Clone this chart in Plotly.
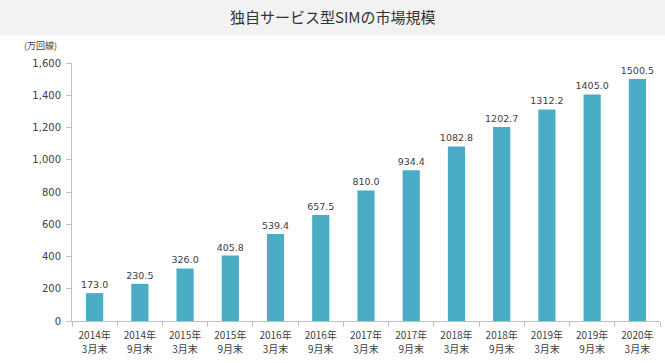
import plotly.graph_objects as go

years = ["2014年", "2014年", "2015年", "2015年", "2016年", "2016年", "2017年",
         "2017年", "2018年", "2018年", "2019年", "2019年", "2020年"]
months = ["3月末", "9月末", "3月末", "9月末", "3月末", "9月末", "3月末",
          "9月末", "3月末", "9月末", "3月末", "9月末", "3月末"]
categories = [y + m for y, m in zip(years, months)]
values = [173.0, 230.5, 326.0, 405.8, 539.4, 657.5, 810.0, 934.4, 1082.8, 1202.7, 1312.2, 1405.0, 1500.5]
y_ticks = [0, 200, 400, 600, 800, 1000, 1200, 1400, 1600]
y_tick_labels = ["0", "200", "400", "600", "800", "1,000", "1,200", "1,400", "1,600"]

FONT = "Noto Sans CJK JP"
NUMFONT = "DejaVu Sans"
W, H = 665, 363
ml, mr, mt, mb = 72, 5, 63, 42
pw, ph = W - ml - mr, H - mt - mb

fig = go.Figure()
fig.add_trace(go.Bar(
    x=categories, y=values,
    marker=dict(color="#4BACC6", line=dict(width=0)),
    width=0.38,
    text=values, texttemplate="%{y:.1f}", textposition="outside",
    constraintext="none",
    textfont=dict(size=9.5, color="#404040", family=NUMFONT),
    cliponaxis=False, hoverinfo="skip",
))
# invisible helper trace carrying the second line of the category labels
fig.add_trace(go.Scatter(x=categories, y=values, xaxis="x2", mode="none",
                         hoverinfo="skip", showlegend=False))

fig.update_layout(
    width=W, height=H,
    margin=dict(l=ml, r=mr, t=mt, b=mb, autoexpand=False),
    paper_bgcolor="white", plot_bgcolor="white",
    font=dict(family=FONT, color="#404040"),
    showlegend=False,
    bargap=0.6,
    shapes=[dict(type="rect", xref="paper", yref="paper",
                 x0=-ml / pw, x1=1 + mr / pw,
                 y0=1 + (mt - 35) / ph, y1=1 + mt / ph,
                 fillcolor="#F2F2F2", line=dict(width=0), layer="below")],
    annotations=[
        dict(text="独自サービス型SIMの市場規模", xref="paper", yref="paper",
             x=(W / 2 - ml) / pw, y=1 + (mt - 17) / ph, showarrow=False,
             font=dict(size=15, color="#333333", family=FONT), xanchor="center", yanchor="middle"),
        dict(text="(万回線)", xref="paper", yref="paper",
             x=(22 - ml) / pw, y=1 + (mt - 45) / ph, showarrow=False,
             font=dict(size=9, color="#404040", family=FONT), xanchor="left", yanchor="middle"),
    ],
    xaxis=dict(
        tickvals=categories, ticktext=years,
        showline=True, linecolor="#BFBFBF", linewidth=1,
        ticks="outside", tickson="boundaries", ticklen=5, tickcolor="#BFBFBF",
        tickfont=dict(size=10, color="#404040", family=FONT),
        ticklabelstandoff=5,
        showgrid=False, automargin=False,
    ),
    xaxis2=dict(
        overlaying="x", matches="x", anchor="y", side="bottom",
        tickvals=categories, ticktext=months,
        showline=False, ticks="",
        tickfont=dict(size=10, color="#404040", family=FONT),
        ticklabelstandoff=21,
        showgrid=False, automargin=False,
    ),
    yaxis=dict(
        range=[0, 1600], tickvals=y_ticks, ticktext=y_tick_labels,
        showline=True, linecolor="#BFBFBF", linewidth=1,
        ticks="outside", ticklen=5, tickcolor="#BFBFBF",
        tickfont=dict(size=10, color="#404040", family=NUMFONT),
        ticklabelstandoff=3,
        showgrid=False, zeroline=False, automargin=False,
    ),
)

fig.write_html("out.html", config={"displayModeBar": False},
               post_script="document.body.style.margin='0';document.body.style.padding='0';")
